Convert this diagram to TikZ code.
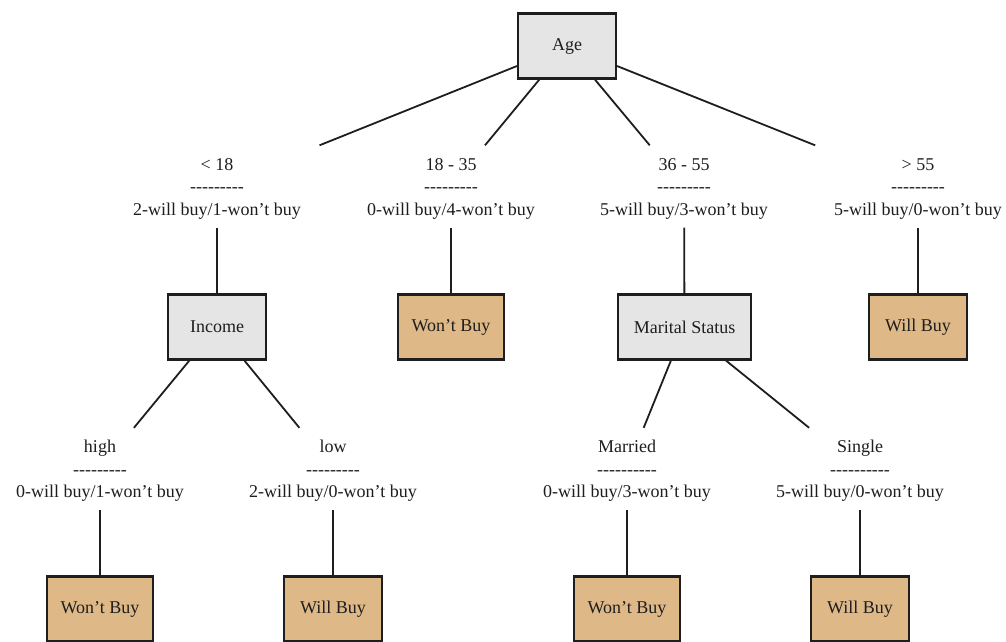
\documentclass[tikz,border=0pt]{standalone}
\usepackage{fontspec}
\setmainfont{Liberation Serif}
\definecolor{innerfill}{HTML}{E5E5E5}
\definecolor{leaffill}{HTML}{DEB887}
\definecolor{ink}{HTML}{1E1E1E}
\newcommand\dnine{-\kern0pt-\kern0pt-\kern0pt-\kern0pt-\kern0pt-\kern0pt-\kern0pt-\kern0pt-}
\newcommand\dten{\dnine\kern0pt-}
\newcommand\topstrut{\rule{0pt}{16.5pt}}
\begin{document}
\begin{tikzpicture}[x=1pt,y=-1pt,
  box/.style={draw=ink, line width=2.2pt, minimum height=65pt, inner sep=0pt,
    font=\fontsize{18}{22}\selectfont, text=ink},
  inode/.style={box, fill=innerfill, minimum width=98pt},
  willbox/.style={box, fill=leaffill, minimum width=98pt},
  wontbox/.style={box, fill=leaffill, minimum width=106pt},
  lab/.style={minimum width=220pt, minimum height=82pt, inner sep=0pt, align=center,
    font=\fontsize{18}{22.5}\selectfont, text=ink},
  edge/.style={draw=ink, line width=1.8pt}]
\useasboundingbox (0,0) rectangle (1006,641);
\fill[white] (0,0) rectangle (1006,641);

% level 0
\node[inode] (age) at (567,46) {Age};

% level 1 labels
\node[lab] (l1) at (217,186.5) {\topstrut< 18\\\dnine\\2-will buy/1-won't buy};
\node[lab] (l2) at (451,186.5) {\topstrut18 - 35\\\dnine\\0-will buy/4-won't buy};
\node[lab] (l3) at (684,186.5) {\topstrut36 - 55\\\dnine\\5-will buy/3-won't buy};
\node[lab] (l4) at (918,186.5) {\topstrut> 55\\\dnine\\5-will buy/0-won't buy};

% level 1 boxes
\node[inode] (income) at (217,327) {Income};
\node[wontbox] (w1) at (451,327) {Won't Buy};
\node[box, fill=innerfill, minimum width=133pt] (marital) at (684.5,327) {Marital Status};
\node[willbox] (b1) at (918,327) {Will Buy};

% level 2 labels
\node[lab] (l5) at (100,469) {\topstrut high\\\dnine\\0-will buy/1-won't buy};
\node[lab] (l6) at (333,469) {\topstrut low\\\dnine\\2-will buy/0-won't buy};
\node[lab] (l7) at (627,469) {\topstrut Married\\\dten\\0-will buy/3-won't buy};
\node[lab] (l8) at (860,469) {\topstrut Single\\\dten\\5-will buy/0-won't buy};

% level 2 boxes
\node[wontbox] (w2) at (100,609) {Won't Buy};
\node[willbox] (b2) at (333,609) {Will Buy};
\node[wontbox] (w3) at (627,609) {Won't Buy};
\node[willbox] (b3) at (860,609) {Will Buy};

% edges
\draw[edge] (age) -- (l1);
\draw[edge] (age) -- (l2);
\draw[edge] (age) -- (l3);
\draw[edge] (age) -- (l4);
\draw[edge] (l1) -- (income);
\draw[edge] (l2) -- (w1);
\draw[edge] (l3) -- (marital);
\draw[edge] (l4) -- (b1);
\draw[edge] (income) -- (l5);
\draw[edge] (income) -- (l6);
\draw[edge] (marital) -- (l7);
\draw[edge] (marital) -- (l8);
\draw[edge] (l5) -- (w2);
\draw[edge] (l6) -- (b2);
\draw[edge] (l7) -- (w3);
\draw[edge] (l8) -- (b3);
\end{tikzpicture}
\end{document}
